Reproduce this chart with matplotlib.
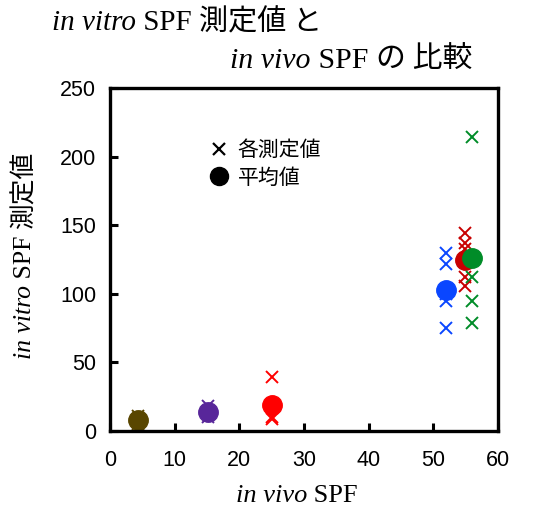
import matplotlib
matplotlib.use('Agg')
import matplotlib.pyplot as plt
from matplotlib.lines import Line2D
from matplotlib.font_manager import FontProperties

# in vivo SPF of each sample, measured in vitro values, mean
groups = ['A', 'B', 'C', 'D', 'E', 'F']
in_vivo = [4.3, 15.2, 25.0, 52.0, 54.9, 56.0]
in_vitro = [
    [11, 5, 8],
    [18, 10, 14],
    [39, 10, 9],
    [130, 122, 100, 95, 75],
    [144, 137, 133, 112, 106],
    [214, 112, 95, 79],
]
means = [8, 14, 19, 103, 125, 126]
colors = ['#594600', '#58269a', '#ff0000', '#0a46ff', '#c80000', '#008c28']

serif_i = FontProperties(family='Liberation Serif', style='italic')
serif = FontProperties(family='Liberation Serif')
cjk = FontProperties(family='Noto Sans CJK JP')
sans = FontProperties(family='Liberation Sans')

fig = plt.figure(figsize=(5.37, 5.19), dpi=100)
ax = fig.add_axes([110/537, 1 - 431/519, 388/537, 343/519])

for xv, ys, m, c in zip(in_vivo, in_vitro, means, colors):
    ax.plot([xv]*len(ys), ys, linestyle='none', marker='x', color=c,
            markersize=9, markeredgewidth=1.4)
    ax.plot([xv], [m], linestyle='none', marker='o', color=c, markersize=14)

ax.set_xlim(0, 60)
ax.set_ylim(0, 250)
ax.set_xticks(range(0, 61, 10))
ax.set_yticks(range(0, 251, 50))
for s in ax.spines.values():
    s.set_linewidth(2.4)
ax.tick_params(direction='in', length=6, width=2.2, pad=10)
ax.tick_params(axis='x', pad=14)
for lab in ax.get_xticklabels() + ax.get_yticklabels():
    lab.set_fontproperties(sans)
    lab.set_fontsize(15.5)

handles = [Line2D([], [], linestyle='none', marker='x', color='black', markersize=8, markeredgewidth=1.6),
           Line2D([], [], linestyle='none', marker='o', color='black', markersize=13)]
ax.legend(handles, ['各測定値', '平均値'], loc='upper left', bbox_to_anchor=(0.2, 0.905),
          frameon=False, prop=FontProperties(family='Noto Sans CJK JP', size=15),
          handletextpad=0.3, labelspacing=0.25, handlelength=1.2)


def pieces_text(x, y, parts, size, ha='left', rotation=0):
    renderer = fig.canvas.get_renderer()
    widths = []
    for s, fp in parts:
        t = fig.text(0, 0, s, fontproperties=fp, fontsize=size)
        widths.append(t.get_window_extent(renderer).width)
        t.remove()
    total = sum(widths)
    W, H = fig.bbox.width, fig.bbox.height
    if rotation == 0:
        pos = x * W - (total if ha == 'right' else total / 2 if ha == 'center' else 0)
        for (s, fp), w in zip(parts, widths):
            fig.text(pos / W, y, s, fontproperties=fp, fontsize=size, va='baseline')
            pos += w
    else:
        pos = y * H - total / 2
        for (s, fp), w in zip(parts, widths):
            fig.text(x, pos / H, s, fontproperties=fp, fontsize=size, rotation=90,
                     ha='center', va='bottom', rotation_mode='default')
            pos += w


pieces_text(52/537, 1 - 30/519, [('in vitro', serif_i), (' SPF ', serif), ('測定値 と', cjk)], 21)
pieces_text(472/537, 1 - 68/519, [('in vivo', serif_i), (' SPF ', serif), ('の 比較', cjk)], 21.5, ha='right')
pieces_text(297/537, 1 - 502/519, [('in vivo', serif_i), (' SPF', serif)], 19, ha='center')
pieces_text(25/537, 1 - 255/519, [('in vitro', serif_i), (' SPF ', serif), ('測定値', cjk)], 18.5, rotation=90)

fig.savefig('out.png', dpi=100)
